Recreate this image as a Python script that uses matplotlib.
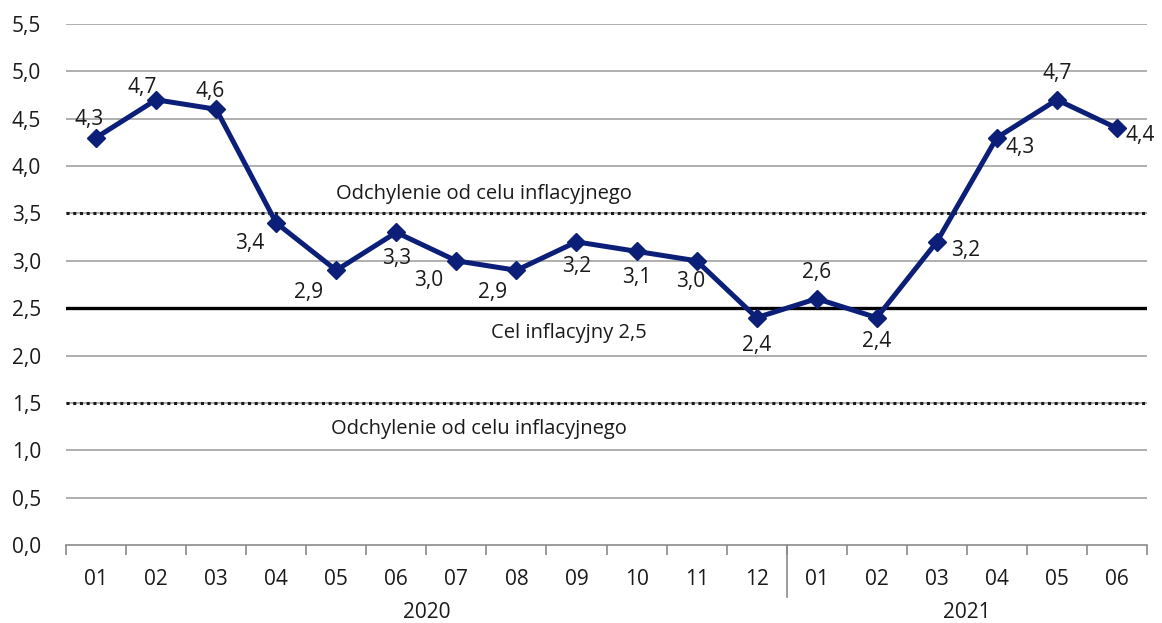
import numpy as np
import matplotlib.pyplot as plt

# data
months = ["01", "02", "03", "04", "05", "06", "07", "08", "09", "10", "11", "12",
          "01", "02", "03", "04", "05", "06"]
years = ["2020", "2021"]
inflation = [4.3, 4.7, 4.6, 3.4, 2.9, 3.3, 3.0, 2.9, 3.2, 3.1, 3.0, 2.4,
             2.6, 2.4, 3.2, 4.3, 4.7, 4.4]
target = 2.5
band_upper = 3.5
band_lower = 1.5

# label offsets (points) for each data label
offsets = [(-5, 13), (-10, 9), (-4, 13), (-19, -15), (-20, -16), (0, -19), (-20, -14), (-17, -16),
           (0, -18), (0, -19), (-4, -15), (0, -20), (0, 19), (0, -17), (21, -6), (17, -7),
           (0, 19), (17, -5)]

plt.rcParams['font.family'] = ['Open Sans', 'DejaVu Sans']
navy = "#0c1f78"
txt = "#1a1a1a"
fs = 15

fig = plt.figure(figsize=(11.62, 6.23), dpi=100)
ax = fig.add_axes([0.0568, 0.1252, 0.9303, 0.8363])

x = np.arange(len(months))
ax.set_xlim(-0.5, len(months) - 0.5)
ax.set_ylim(0, 5.5)

# grid
for yv in np.arange(0.5, 5.51, 0.5):
    ax.axhline(yv, color="#9a9a9a", linewidth=1.1, zorder=0)

ax.axhline(band_upper, color="#1a1a1a", linestyle=(0, (1, 1.2)), linewidth=2.2, zorder=1)
ax.axhline(band_lower, color="#1a1a1a", linestyle=(0, (1, 1.2)), linewidth=2.2, zorder=1)
ax.axhline(target, color="black", linewidth=2.4, zorder=1)

ax.text(6.46, 3.71, "Odchylenie od celu inflacyjnego", ha="center", va="center", fontsize=14.5, color=txt)
ax.text(6.38, 1.22, "Odchylenie od celu inflacyjnego", ha="center", va="center", fontsize=14.5, color=txt)
ax.text(7.88, 2.24, "Cel inflacyjny 2,5", ha="center", va="center", fontsize=14.5, color=txt)

ax.plot(x, inflation, color=navy, linewidth=3.6, marker="D", markersize=9.5, zorder=3)

for xi, v, (dx, dy) in zip(x, inflation, offsets):
    ax.annotate(f"{v:.1f}".replace(".", ","), (xi, v), xytext=(dx, dy), textcoords="offset points",
                ha="center", va="center", fontsize=fs, color=txt)

# axes styling
for s in ["left", "right", "top"]:
    ax.spines[s].set_visible(False)
ax.spines["bottom"].set_color("#8a8a8a")
ax.spines["bottom"].set_linewidth(1.2)

ax.set_yticks(np.arange(0, 5.51, 0.5))
ax.set_yticklabels([f"{v:.1f}".replace(".", ",") for v in np.arange(0, 5.51, 0.5)])
ax.tick_params(axis="y", length=0, pad=18, labelsize=fs, labelcolor=txt)

ax.set_xticks(x)
ax.set_xticklabels(months)
ax.set_xticks(np.arange(-0.5, len(months), 1), minor=True)
ax.tick_params(axis="x", which="major", length=0, pad=17, labelsize=fs, labelcolor=txt)
ax.tick_params(axis="x", which="minor", length=7, width=1.2, color="#8a8a8a")

# year separator and year labels
ax.plot([11.5, 11.5], [0, -0.1], transform=ax.get_xaxis_transform(), color="#8a8a8a",
        linewidth=1.2, clip_on=False)
ax.text(5.5, -0.13, years[0], transform=ax.get_xaxis_transform(), ha="center", va="center",
        fontsize=fs, color=txt)
ax.text(14.5, -0.13, years[1], transform=ax.get_xaxis_transform(), ha="center", va="center",
        fontsize=fs, color=txt)

fig.savefig("out.png", dpi=100)
